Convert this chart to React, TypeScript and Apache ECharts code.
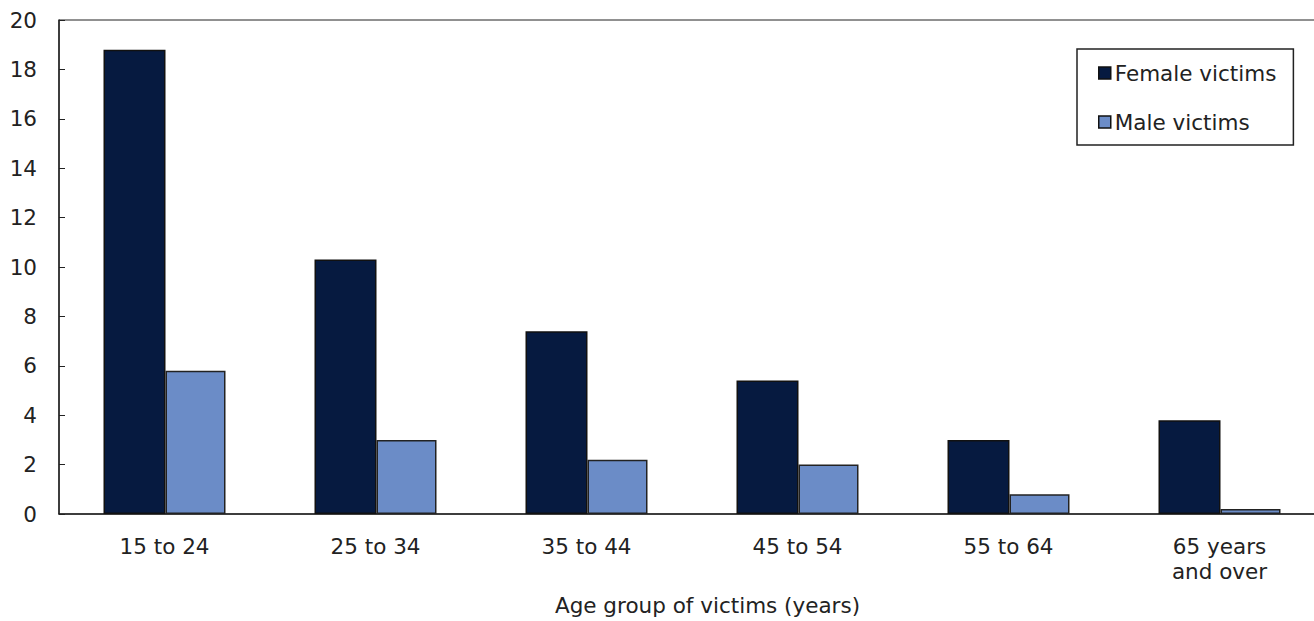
import React, { useEffect, useRef } from "react";
import * as echarts from "echarts";

const categories = ["15 to 24", "25 to 34", "35 to 44", "45 to 54", "55 to 64", "65 years\nand over"];
const femaleVictims = [18.8, 10.3, 7.4, 5.4, 3.0, 3.8];
const maleVictims = [5.8, 3.0, 2.2, 2.0, 0.8, 0.2];
const yTicks = [0, 2, 4, 6, 8, 10, 12, 14, 16, 18, 20];

const FONT = "DejaVu Sans";
const TEXT = "#222";
const FS = 21.5;

export default function App() {
  const ref = useRef<HTMLDivElement>(null);
  useEffect(() => {
    if (!ref.current) return;
    const chart = echarts.init(ref.current, null, { renderer: "svg" });
    chart.setOption({
      animation: false,
      backgroundColor: "#fff",
      textStyle: { fontFamily: FONT, color: TEXT },
      grid: { left: 59, top: 20, width: 1266, height: 500, show: true, borderColor: "#222", borderWidth: 1, containLabel: false },
      legend: {
        orient: "vertical",
        left: 1077,
        top: 49,
        padding: [13, 17, 12, 21],
        itemGap: 27,
        itemWidth: 12,
        itemHeight: 12,
        itemStyle: { borderColor: "#111", borderWidth: 1.5 },
        icon: "rect",
        borderColor: "#222",
        borderWidth: 1.5,
        textStyle: { fontFamily: FONT, fontSize: FS, color: TEXT, padding: [0, 0, 0, -1] },
        data: ["Female victims", "Male victims"],
      },
      xAxis: {
        type: "category",
        data: categories,
        name: "Age group of victims (years)",
        nameLocation: "middle",
        nameGap: 80,
        nameTextStyle: { fontFamily: FONT, fontSize: FS, color: TEXT, padding: [0, 0, 0, 31] },
        axisLine: { lineStyle: { color: "#222", width: 1.5 } },
        axisTick: { inside: true, length: 6, alignWithLabel: false, lineStyle: { color: "#222" } },
        axisLabel: { fontFamily: FONT, fontSize: FS, color: TEXT, margin: 20, lineHeight: 25, interval: 0 },
      },
      yAxis: {
        type: "value",
        min: 0,
        max: 20,
        interval: 2,
        axisLine: { show: true, lineStyle: { color: "#222", width: 1.5 } },
        axisTick: { show: true, inside: true, length: 6, lineStyle: { color: "#222" } },
        splitLine: { show: false },
        axisLabel: {
          fontFamily: FONT,
          fontSize: FS,
          color: TEXT,
          margin: 22,
          formatter: (v: number) => (yTicks.includes(v) ? String(v) : ""),
        },
      },
      series: [
        {
          name: "Female victims",
          type: "bar",
          data: femaleVictims,
          barWidth: 62,
          barGap: "0%",
          itemStyle: { color: "#061a40", borderColor: "#111", borderWidth: 1.5 },
        },
        {
          name: "Male victims",
          type: "bar",
          data: maleVictims,
          barWidth: 60,
          barGap: "0%",
          itemStyle: { color: "#6b8cc7", borderColor: "#222", borderWidth: 1.5 },
        },
      ],
    });
    return () => chart.dispose();
  }, []);
  return (
    <div
      ref={ref}
      style={{ position: "fixed", left: 0, top: 0, width: 1340, height: 621, background: "#fff" }}
    />
  );
}
